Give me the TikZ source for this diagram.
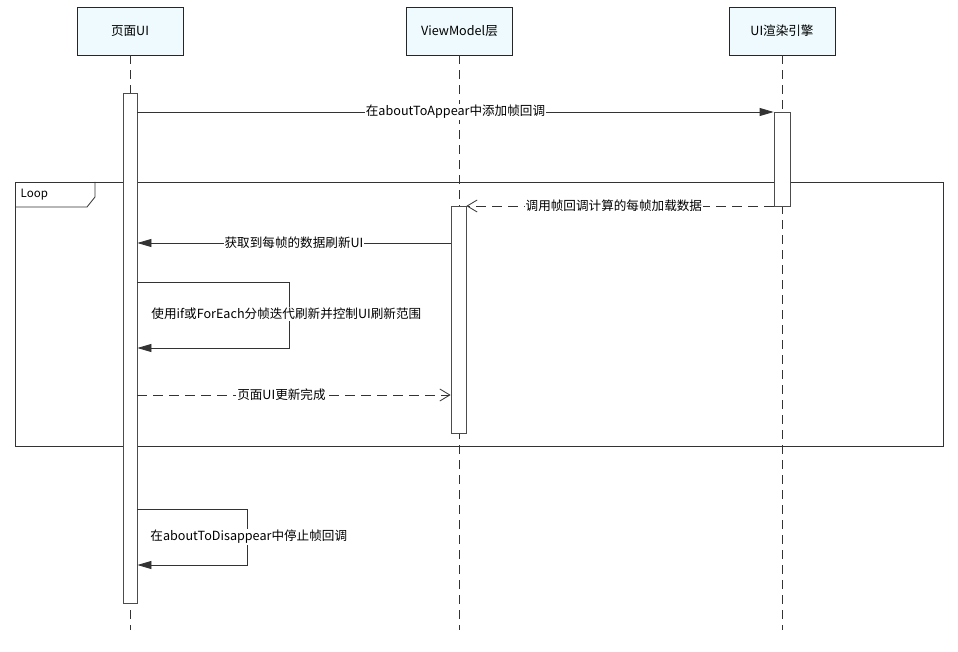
\documentclass[tikz,border=0pt]{standalone}
\usepackage{fontspec}
\setmainfont{Noto Sans CJK SC}
\usetikzlibrary{arrows.meta}
\definecolor{headfill}{HTML}{EEFAFD}
\definecolor{linegray}{HTML}{333333}

\begin{document}
\begin{tikzpicture}[x=1pt, y=-1pt, line width=0.8pt, draw=linegray,
        every node/.style={font=\fontsize{12.6pt}{14pt}\selectfont},
        head/.style={draw=black!85, fill=headfill, minimum width=106pt, minimum height=48pt, inner sep=0pt},
        lifeline/.style={dash pattern=on 9pt off 6pt},
        bar/.style={draw=black!70, fill=white, anchor=north, inner sep=0pt},
        msg/.style={-{Triangle[length=14pt, width=8pt]}},
        reply/.style={dash pattern=on 10pt off 6pt, -{Straight Barb[length=10pt, width=12pt]}},
        lab/.style={fill=white, inner sep=1pt}]
                \useasboundingbox (0,0) rectangle (958,652);

                \node[draw, minimum width=928pt, minimum height=264pt, anchor=north west, inner sep=0pt] (loop) at (15,182) {};
                \draw (loop.north west) ++(0,25) coordinate (lpa) -- ++(72,0) -- ++(8,-10) -- (95,182);
                \node[anchor=west, font=\fontsize{11.5pt}{13pt}\selectfont] (looptxt) at (17,195) {Loop};

                \node[head] (ui) at (130,31) {页面UI};
                \node[head] (vm) at (459.5,31) {ViewModel层};
                \node[head] (eng) at (782,31) {UI渲染引擎};

                \coordinate (uiend) at (130,630);
                \coordinate (vmend) at (459,630);
                \coordinate (engend) at (782,630);
                \draw[lifeline] (ui) -- (uiend);
                \draw[lifeline] (vm.south -| vmend) -- (vmend);
                \draw[lifeline] (eng) -- (engend);

                \node[bar, minimum width=14pt, minimum height=510pt] (a1) at (130,93) {};
                \node[bar, minimum width=16pt, minimum height=94pt] (a2) at (782,112) {};
                \node[bar, minimum width=15pt, minimum height=227pt] (a3) at (458.5,206) {};

                \coordinate (y1) at (0,112);
                \coordinate (y2) at (0,206);
                \coordinate (y3) at (0,243);
                \coordinate (y4) at (0,282);
                \coordinate (y5) at (0,348);
                \coordinate (y6) at (0,395);
                \coordinate (y7) at (0,509);
                \coordinate (y8) at (0,565);
                \coordinate (s1) at (289,282);
                \coordinate (s2) at (247,509);

                \draw[msg] (a1.east |- y1) -- node[lab] (m1) {在aboutToAppear中添加帧回调} (a2.west |- y1);
                \draw[reply] (a2.west |- y2) -- node[lab, pos=0.52] (m2) {调用帧回调计算的每帧加载数据} (a3.east |- y2);
                \draw[msg] (a3.west |- y3) -- node[lab] (m3) {获取到每帧的数据刷新UI} (a1.east |- y3);
                \draw[msg] (a1.east |- y4) -- (s1) -- (s1 |- y5) -- (a1.east |- y5);
                \node[lab, anchor=west] (m4) at (150,314) {使用if或ForEach分帧迭代刷新并控制UI刷新范围};
                \draw[reply] (a1.east |- y6) -- node[lab, pos=0.46] (m5) {页面UI更新完成} (a3.west |- y6);
                \draw[msg] (a1.east |- y7) -- (s2) -- (s2 |- y8) -- (a1.east |- y8);
                \node[lab, anchor=west] (m6) at (149,537) {在aboutToDisappear中停止帧回调};
            \end{tikzpicture}
\end{document}
